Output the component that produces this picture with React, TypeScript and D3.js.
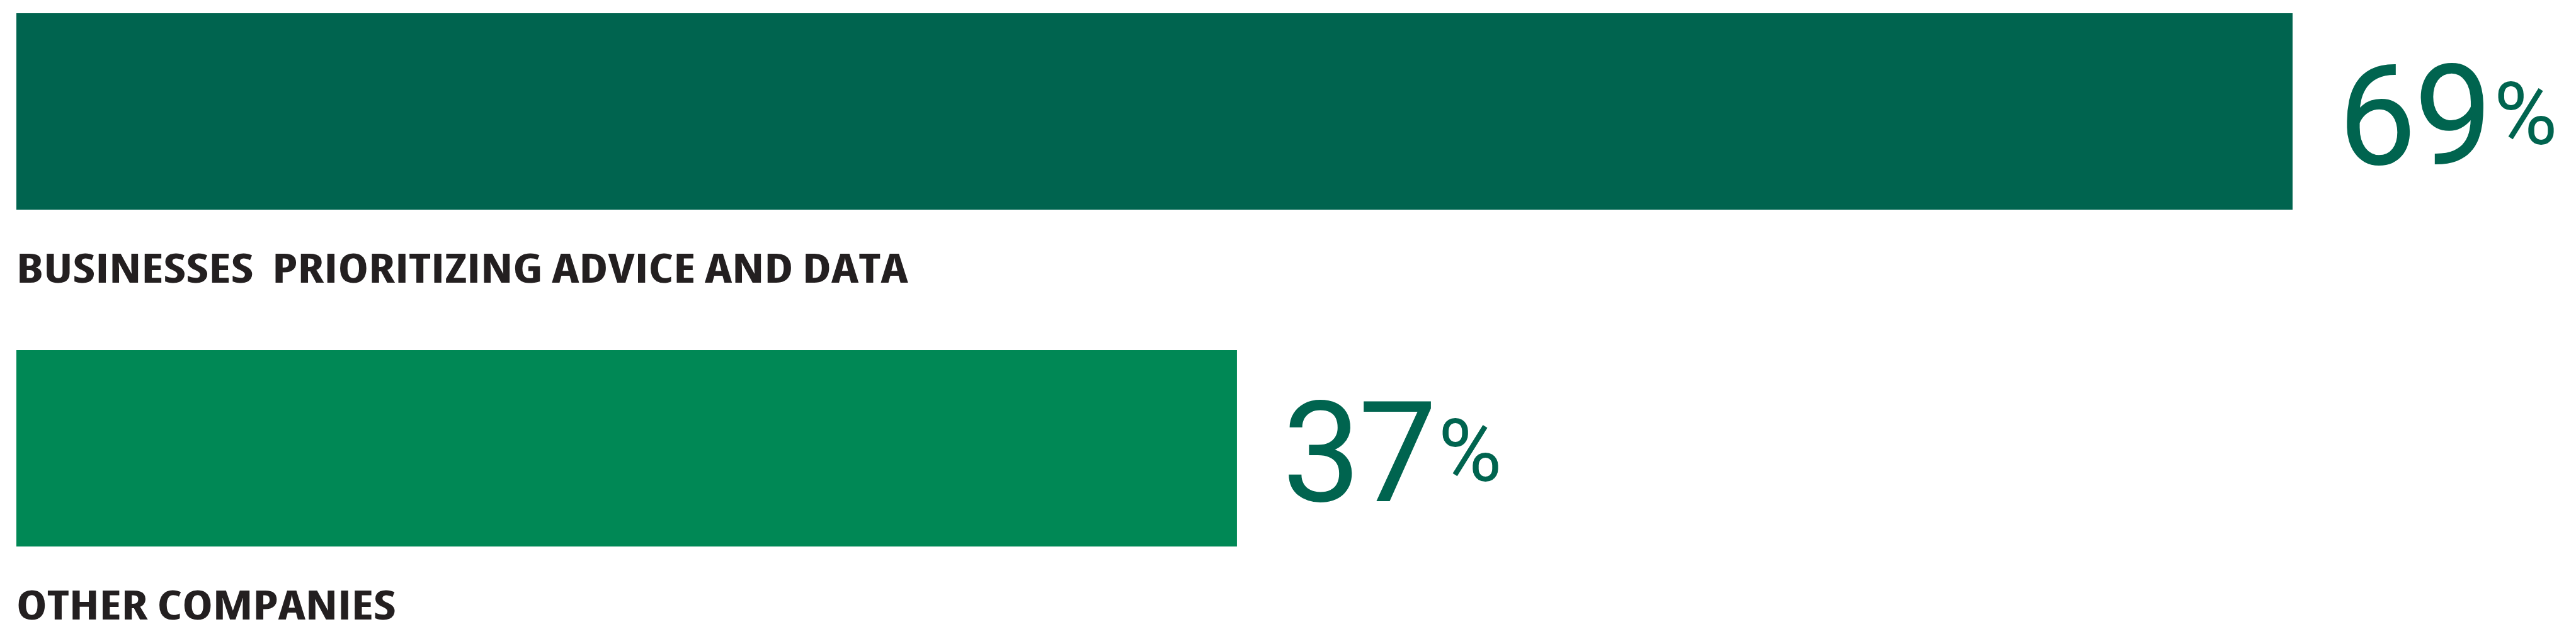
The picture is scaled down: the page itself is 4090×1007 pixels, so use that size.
import React, { useEffect, useRef } from 'react';
import * as d3 from 'd3';

// Chart data
const categories = ['BUSINESSES  PRIORITIZING ADVICE AND DATA', 'OTHER COMPANIES'];
const percentages = [69, 37];
const barColors = ['#00644f', '#008855'];

const WIDTH = 4090;
const HEIGHT = 1007;

const App: React.FC = () => {
  const svgRef = useRef<SVGSVGElement>(null);

  useEffect(() => {
    if (!svgRef.current) return;

    const svg = d3.select(svgRef.current);
    svg.selectAll('*').remove();

    const rows = categories.map((c, i) => ({ label: c, value: percentages[i], color: barColors[i] }));

    const xScale = d3.scaleLinear().domain([0, 69]).range([26, 3640]);

    const yScale = d3
      .scaleBand<string>()
      .domain(categories)
      .range([21, 868])
      .paddingInner(1 - 312 / 535)
      .paddingOuter(0);

    const g = svg.append('g');

    // Bars
    g.selectAll('rect.bar')
      .data(rows)
      .enter()
      .append('rect')
      .attr('class', 'bar')
      .attr('x', xScale(0))
      .attr('y', (d) => yScale(d.label)!)
      .attr('width', (d) => xScale(d.value) - xScale(0))
      .attr('height', yScale.bandwidth())
      .attr('fill', (d) => d.color);

    // Category labels under each bar (condensed face, widened a bit to match)
    g.selectAll('text.label')
      .data(rows)
      .enter()
      .append('text')
      .attr('class', 'label')
      .attr('x', xScale(0))
      .attr('y', (d) => yScale(d.label)! + yScale.bandwidth() + 116)
      .attr('font-family', '"Open Sans", "DejaVu Sans", sans-serif')
      .attr('font-stretch', '75%')
      .attr('font-weight', 'bold')
      .attr('font-size', '65px')
      .attr('fill', '#231f20')
      .style('white-space', 'pre')
      .text((d) => d.label)
      .each(function () {
        const el = this as SVGTextElement;
        const w = el.getComputedTextLength();
        el.setAttribute('textLength', String(w * 1.265));
        el.setAttribute('lengthAdjust', 'spacingAndGlyphs');
      });

    // Value labels: big number + smaller raised percent sign
    const nums = g
      .selectAll('text.value')
      .data(rows)
      .enter()
      .append('text')
      .attr('class', 'value')
      .attr('x', (d) => xScale(d.value) + 72)
      .attr('y', (d) => yScale(d.label)! + 240)
      .attr('font-family', 'Roboto, "Noto Sans", sans-serif')
      .attr('font-size', '222px')
      .attr('letter-spacing', '-4px')
      .attr('fill', '#00644f')
      .text((d) => String(d.value));

    nums.each(function (d) {
      const box = (this as SVGTextElement).getBBox();
      g.append('text')
        .attr('class', 'pct')
        .attr('x', box.x + box.width + 6)
        .attr('y', yScale(d.label)! + 208)
        .attr('font-family', 'Roboto, "Noto Sans", sans-serif')
        .attr('font-size', '138px')
        .attr('fill', '#00644f')
        .text('%');
    });
  }, []);

  return (
    <svg
      ref={svgRef}
      width={WIDTH}
      height={HEIGHT}
      style={{ position: 'absolute', left: 0, top: 0, background: '#fff' }}
    />
  );
};

export default App;
